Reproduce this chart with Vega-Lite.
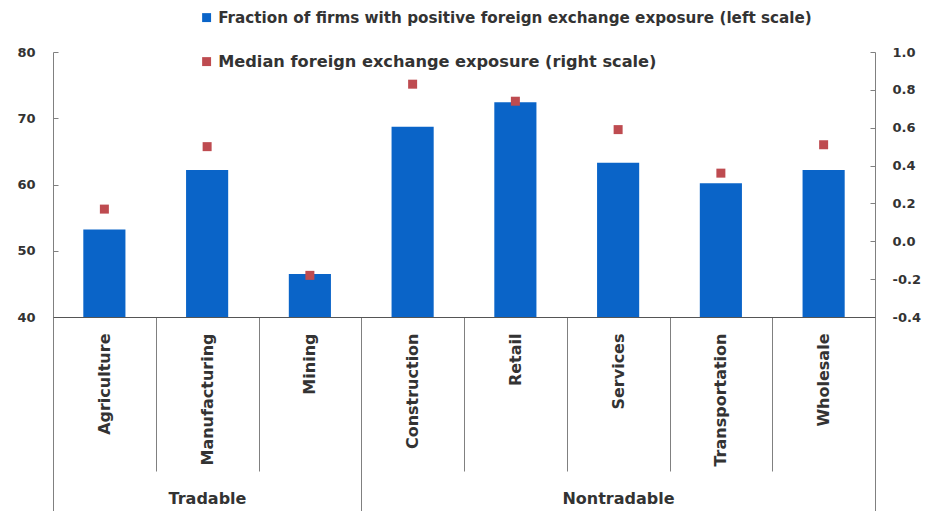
{
  "$schema": "https://vega.github.io/schema/vega-lite/v6.json",
  "width": 822,
  "height": 265,
  "autosize": {"type": "none"},
  "padding": {"left": 53, "top": 52, "right": 50, "bottom": 194},
  "background": "white",
  "config": {
    "view": {"stroke": null},
    "font": "DejaVu Sans",
    "axis": {
      "labelFont": "DejaVu Sans",
      "labelFontWeight": "bold",
      "labelColor": "#333333",
      "domainColor": "#808080",
      "tickColor": "#808080",
      "grid": false,
      "titleFont": "DejaVu Sans",
      "titleFontWeight": "bold",
      "titleColor": "#333333"
    }
  },
  "data": {
    "values": [
      {"sector": "Agriculture", "group": "Tradable", "fraction": 53.2, "median": 0.17},
      {"sector": "Manufacturing", "group": "Tradable", "fraction": 62.2, "median": 0.50},
      {"sector": "Mining", "group": "Tradable", "fraction": 46.5, "median": -0.18},
      {"sector": "Construction", "group": "Nontradable", "fraction": 68.7, "median": 0.83},
      {"sector": "Retail", "group": "Nontradable", "fraction": 72.4, "median": 0.74},
      {"sector": "Services", "group": "Nontradable", "fraction": 63.3, "median": 0.59},
      {"sector": "Transportation", "group": "Nontradable", "fraction": 60.2, "median": 0.36},
      {"sector": "Wholesale", "group": "Nontradable", "fraction": 62.2, "median": 0.51}
    ]
  },
  "layer": [
    {
      "mark": {"type": "bar", "width": {"band": 0.41}},
      "encoding": {
        "x": {
          "field": "sector", "type": "nominal", "sort": null,
          "scale": {"type": "band", "paddingInner": 0, "paddingOuter": 0},
          "axis": {
            "orient": "bottom",
            "tickBand": "extent",
            "tickSize": 154,
            "labelAngle": -90,
            "labelAlign": "right",
            "labelBaseline": "middle",
            "labelPadding": -138,
            "labelFontSize": 16,
            "labelLimit": 400,
            "domainColor": "#555555",
            "zindex": 1,
            "title": "Tradable",
            "titleX": 154,
            "titleY": 181,
            "titleBaseline": "middle",
            "titleAlign": "center",
            "titleFontSize": 16
          }
        },
        "y": {
          "field": "fraction", "type": "quantitative",
          "scale": {"domain": [40, 80], "zero": false, "nice": false},
          "axis": {"orient": "left", "values": [40, 50, 60, 70, 80], "tickSize": -5, "labelPadding": 23, "labelFontSize": 13, "title": null}
        },
        "y2": {"datum": 40},
        "color": {
          "datum": "Fraction of firms with positive foreign exchange exposure (left scale)",
          "type": "nominal",
          "scale": {
            "domain": ["Fraction of firms with positive foreign exchange exposure (left scale)", "Median foreign exchange exposure (right scale)"],
            "range": ["#0A64C8", "#BE4B50"]
          },
          "legend": {
            "orient": "none",
            "legendX": 146,
            "legendY": -42,
            "direction": "vertical",
            "title": null,
            "symbolType": "square",
            "symbolSize": 80,
            "symbolStrokeWidth": 0,
            "rowPadding": 27,
            "labelFont": "DejaVu Sans",
            "labelFontSize": {"expr": "datum.value === 'Median foreign exchange exposure (right scale)' ? 16.2 : 15.2"},
            "labelFontWeight": "bold",
            "labelColor": "#333333",
            "labelLimit": 1000,
            "padding": 0
          }
        }
      }
    },
    {
      "mark": {"type": "point", "shape": "square", "filled": true, "size": 81, "opacity": 1},
      "encoding": {
        "x": {
          "field": "sector", "type": "nominal", "sort": null,
          "scale": {"type": "band", "paddingInner": 0, "paddingOuter": 0},
          "axis": {
            "orient": "bottom",
            "tickBand": "extent",
            "tickSize": 195,
            "tickColor": "#808080",
            "tickOpacity": {"condition": {"test": "datum.index === -1 || datum.value === 'Mining' || datum.value === 'Wholesale'", "value": 1}, "value": 0},
            "labels": false,
            "domain": false,
            "title": "Nontradable",
            "titleX": 565,
            "titleY": 181,
            "titleBaseline": "middle",
            "titleAlign": "center",
            "titleFontSize": 16
          }
        },
        "y": {
          "field": "median", "type": "quantitative",
          "scale": {"domain": [-0.4, 1.0], "zero": false, "nice": false},
          "axis": {
            "orient": "right",
            "values": [-0.4, -0.2, 0, 0.2, 0.4, 0.6, 0.8, 1.0],
            "labelExpr": "replace(format(datum.value, '.1f'), '\u2212', '-')",
            "tickSize": -5,
            "labelPadding": 22,
            "labelFontSize": 13,
            "title": null
          }
        },
        "color": {
          "datum": "Median foreign exchange exposure (right scale)",
          "type": "nominal"
        }
      }
    }
  ],
  "resolve": {
    "scale": {"x": "independent", "y": "independent"},
    "axis": {"x": "independent", "y": "independent"}
  }
}
